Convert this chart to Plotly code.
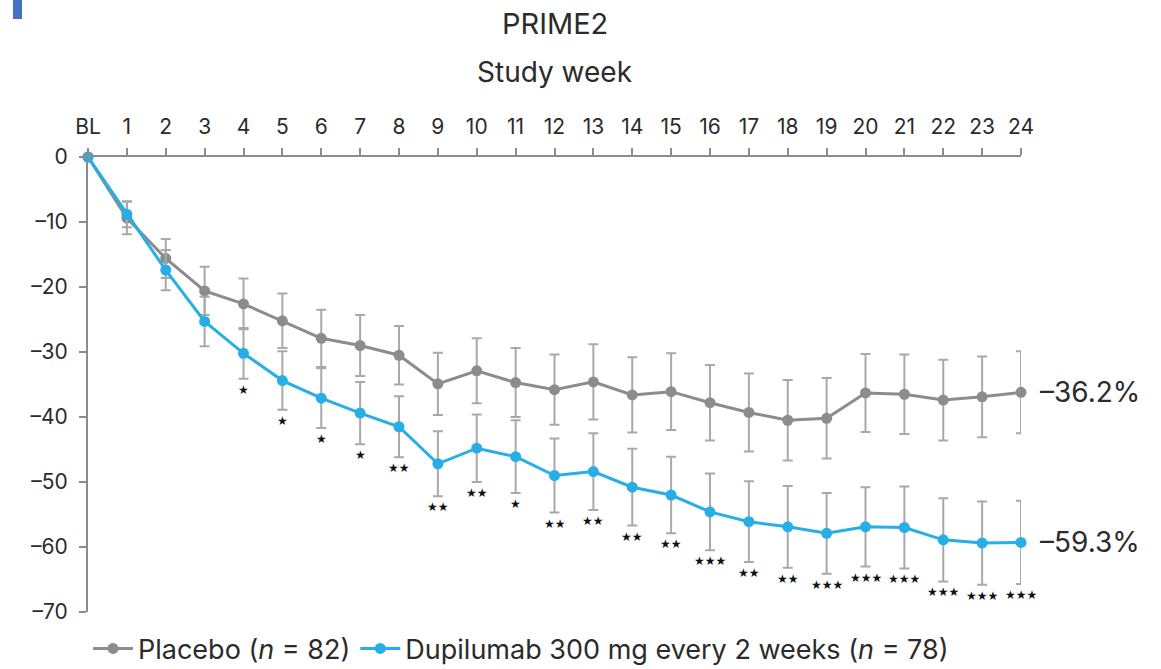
import plotly.graph_objects as go

weeks = list(range(0, 25))
week_labels = ["BL"] + [str(w) for w in range(1, 25)]

placebo_mean = [0, -9.4, -15.6, -20.6, -22.6, -25.2, -27.9, -29.0, -30.5, -34.9, -32.9, -34.7,
                -35.8, -34.6, -36.6, -36.1, -37.8, -39.3, -40.5, -40.2, -36.3, -36.5, -37.4, -36.9, -36.2]
placebo_err = [0, 2.5, 3.0, 3.7, 3.9, 4.2, 4.4, 4.7, 4.5, 4.8, 5.0, 5.3,
               5.4, 5.8, 5.8, 5.9, 5.8, 6.0, 6.2, 6.2, 6.0, 6.1, 6.2, 6.2, 6.3]

dupi_mean = [0, -8.8, -17.4, -25.3, -30.2, -34.4, -37.1, -39.4, -41.5, -47.2, -44.8, -46.1,
             -49.0, -48.4, -50.8, -52.0, -54.6, -56.1, -56.9, -57.9, -56.9, -57.0, -58.9, -59.4, -59.3]
dupi_err = [0, 2.0, 3.1, 3.8, 3.9, 4.5, 4.6, 4.8, 4.7, 5.0, 5.2, 5.6,
            5.7, 5.9, 5.9, 5.9, 5.9, 6.2, 6.3, 6.2, 6.1, 6.3, 6.4, 6.4, 6.4]

stars = ["", "", "", "", "★", "★", "★", "★", "★★", "★★", "★★", "★",
         "★★", "★★", "★★", "★★", "★★★", "★★", "★★", "★★★", "★★★", "★★★", "★★★", "★★★", "★★★"]

end_labels = ["–36.2%", "–59.3%"]

GRAY = "#8c8c8c"
ERR = "#a9a9a9"
BLUE = "#27aee6"
TXT = "#2b2b2b"
FONT = "Inter"

fig = go.Figure()
fig.add_trace(go.Scatter(
    x=weeks, y=placebo_mean, mode="lines+markers",
    name="Placebo (<i>n</i> = 82)",
    line=dict(color=GRAY, width=3),
    marker=dict(color=GRAY, size=11),
    error_y=dict(type="data", array=placebo_err, color=ERR, thickness=2, width=5),
    cliponaxis=False,
))
fig.add_trace(go.Scatter(
    x=weeks, y=dupi_mean, mode="lines+markers",
    name="Dupilumab 300 mg every 2 weeks (<i>n</i> = 78)",
    line=dict(color=BLUE, width=3),
    marker=dict(color=BLUE, size=11),
    error_y=dict(type="data", array=dupi_err, color=ERR, thickness=2, width=5),
    cliponaxis=False,
))

annotations = []
for w, m, e, s in zip(weeks, dupi_mean, dupi_err, stars):
    if s:
        annotations.append(dict(x=w, y=m - e, text=s, showarrow=False,
                                yanchor="middle", yshift=-11,
                                font=dict(size=12, color="#111111", family="DejaVu Sans")))
annotations.append(dict(x=weeks[-1], y=placebo_mean[-1], text=end_labels[0], showarrow=False,
                        xanchor="left", xshift=17, font=dict(size=28, color=TXT, family=FONT)))
annotations.append(dict(x=weeks[-1], y=dupi_mean[-1], text=end_labels[1], showarrow=False,
                        xanchor="left", xshift=17, font=dict(size=28, color=TXT, family=FONT)))
annotations.append(dict(xref="paper", yref="paper", x=0.5, y=1, yanchor="middle", yshift=134,
                        xanchor="center", text="PRIME2", showarrow=False,
                        font=dict(size=29, color=TXT, family=FONT)))
annotations.append(dict(xref="paper", yref="paper", x=0.5, y=1, yanchor="middle", yshift=85,
                        xanchor="center", text="Study week", showarrow=False,
                        font=dict(size=28, color=TXT, family=FONT)))

fig.update_layout(
    width=1161, height=669,
    margin=dict(l=88, r=140, t=157, b=57, autoexpand=False),
    paper_bgcolor="white", plot_bgcolor="white",
    font=dict(family=FONT, color=TXT),
    showlegend=True,
    legend=dict(orientation="h", x=0.0, xanchor="left",
                yref="container", y=0.03, yanchor="middle",
                font=dict(size=27, color=TXT, family=FONT), itemwidth=40,
                tracegroupgap=0, bgcolor="rgba(0,0,0,0)"),
    annotations=annotations,
    shapes=[dict(type="rect", xref="paper", yref="paper",
                 x0=(13 - 88) / 933, x1=(22 - 88) / 933,
                 y0=1 + (157 - 19) / 455, y1=1 + 157 / 455,
                 fillcolor="#4472c4", line=dict(width=0), layer="above")],
)

fig.update_xaxes(
    range=[0, 24], side="top",
    tickmode="array", tickvals=weeks, ticktext=week_labels,
    ticks="outside", ticklen=7, tickwidth=2, tickcolor=GRAY,
    showline=True, linecolor=GRAY, linewidth=2,
    showgrid=False, zeroline=False,
    ticklabelstandoff=6,
    tickfont=dict(size=21, color=TXT, family=FONT),
)
fig.update_yaxes(
    range=[-70, 0],
    tickmode="array", tickvals=[0, -10, -20, -30, -40, -50, -60, -70],
    ticktext=["0", "–10", "–20", "–30", "–40", "–50", "–60", "–70"],
    ticks="outside", ticklen=7, tickwidth=2, tickcolor=GRAY,
    showline=True, linecolor=GRAY, linewidth=2,
    showgrid=False, zeroline=False,
    ticklabelstandoff=7,
    tickfont=dict(size=21, color=TXT, family=FONT),
)

fig.write_html("out.html")
